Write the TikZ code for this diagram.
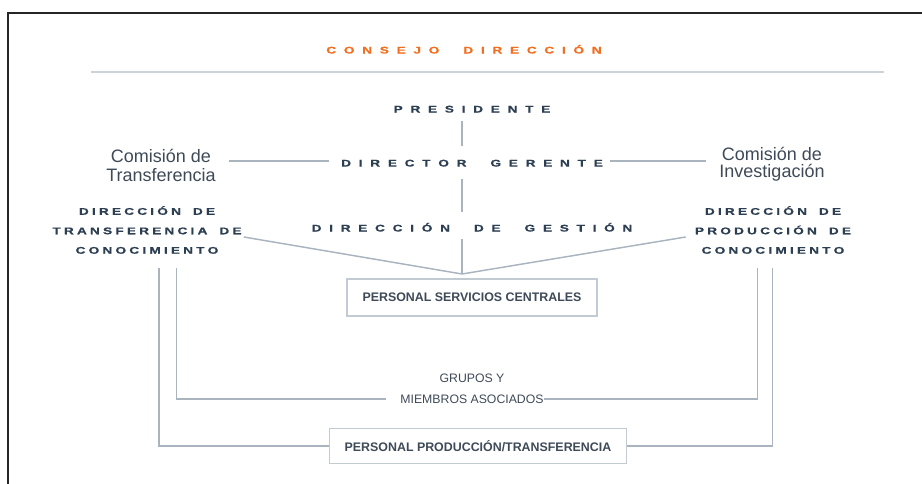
\documentclass[tikz,border=0pt]{standalone}
\usepackage{fontspec}
\setmainfont{Liberation Sans}
\newfontfamily\spfont[FakeStretch=1.4,FakeBold=0.6]{Liberation Sans}
\definecolor{navy}{HTML}{2C3E52}
\definecolor{txtgray}{HTML}{3E4A57}
\definecolor{orng}{HTML}{F26F21}
\definecolor{lncol}{HTML}{A9B4BF}
\definecolor{boxcol}{HTML}{C2CAD2}
\definecolor{rulecol}{HTML}{CDD3DA}
\ExplSyntaxOn
\dim_new:N \l_rs_kern_dim
\dim_new:N \l_rs_gap_dim
\bool_new:N \l_rs_first_bool
\bool_new:N \l_rs_fc_bool
\seq_new:N \l_rs_words_seq
\cs_new_protected:Npn \rs_word:n #1
  {
    \bool_set_true:N \l_rs_fc_bool
    \tl_map_inline:nn {#1}
      {
        \bool_if:NF \l_rs_fc_bool { \kern \l_rs_kern_dim }
        \bool_set_false:N \l_rs_fc_bool
        ##1
      }
  }
\NewDocumentCommand \spacedtext { m m m }
  {
    \dim_set:Nn \l_rs_kern_dim {#1}
    \dim_set:Nn \l_rs_gap_dim {#2}
    \seq_set_split:Nnn \l_rs_words_seq { ~ } {#3}
    \bool_set_true:N \l_rs_first_bool
    \seq_map_inline:Nn \l_rs_words_seq
      {
        \bool_if:NF \l_rs_first_bool { \kern \l_rs_gap_dim }
        \bool_set_false:N \l_rs_first_bool
        \rs_word:n {##1}
      }
  }
\ExplSyntaxOff
\newcommand\spL[1]{\spacedtext{5.8pt}{18pt}{#1}}
\newcommand\spS[1]{\spacedtext{2.4pt}{9pt}{#1}}
\tikzset{
  spbig/.style={font={\spfont\bfseries\fontsize{7.3pt}{8pt}\selectfont}, text=navy, inner sep=0pt, text height=5.3pt, text depth=0pt},
  spstack/.style={font={\spfont\bfseries\fontsize{7.3pt}{14.6pt}\selectfont}, text=navy, inner sep=0pt, align=center},
  comm/.style={font={\fontsize{13.5pt}{14.2pt}\selectfont}, text=txtgray, inner sep=0pt, align=center},
  small/.style={font={\fontsize{9.2pt}{11pt}\selectfont}, text=txtgray, inner sep=0pt, text height=6.6pt, text depth=0pt},
  boxed/.style={draw=boxcol, line width=0.9pt, font={\bfseries\fontsize{9.3pt}{11pt}\selectfont}, text=txtgray, inner sep=0pt},
  ln/.style={draw=lncol, line width=1.1pt},
}
\begin{document}
\begin{tikzpicture}[x=0.75pt,y=-0.75pt]
\useasboundingbox (0,0) rectangle (922,484);
\clip (0,0) rectangle (922,484);
% frame
\draw[black!85, line width=1.6pt] (8,500) -- (8,13) -- (940,13);
% title and rule
\node[spbig, text=orng] (title) at (464,50) {\spL{CONSEJO DIRECCIÓN}};
\draw[rulecol, line width=1.4pt] (91,72) -- (884,72);
% central stack
\node[spbig] (pres) at (472,109) {\spL{PRESIDENTE}};
\node[spbig] (dg) at (472,163) {\spL{DIRECTOR GERENTE}};
\node[spbig] (dgest) at (472,228) {\spL{DIRECCIÓN DE GESTIÓN}};
% commissions
\node[comm] (comT) at (161,165) {Comisión de\\Transferencia};
\node[comm, font={\fontsize{13.5pt}{12.5pt}\selectfont}] (comI) at (772,164) {Comisión de\\Investigación};
% side directorates
\node[spstack] (DT) at (147,230) {\spS{DIRECCIÓN DE}\\\spS{TRANSFERENCIA DE}\\\spS{CONOCIMIENTO}};
\node[spstack] (DP) at (773,230) {\spS{DIRECCIÓN DE}\\\spS{PRODUCCIÓN DE}\\\spS{CONOCIMIENTO}};
% boxes
\node[boxed, minimum width=187.5pt, minimum height=27.75pt] (PSC) at (472,297.5) {PERSONAL SERVICIOS CENTRALES};
\node[boxed, minimum width=223pt, minimum height=26pt] (PPT) at (478,446) {PERSONAL PRODUCCIÓN/TRANSFERENCIA};
% groups
\node[small] (gr) at (472,378) {GRUPOS Y};
\node[small] (gm) at (472,399) {MIEMBROS ASOCIADOS};
% coordinates
\coordinate (spine) at (462,0);
\coordinate (apex) at (462,274);
\coordinate (oL) at (159,268);
\coordinate (iL) at (176.5,268);
\coordinate (iR) at (757.5,268);
\coordinate (oR) at (772.5,268);
% connectors
\draw[ln, shorten <=6.3pt, shorten >=10.1pt] (spine |- pres.south) -- (spine |- dg.north);
\draw[ln, shorten <=9.3pt, shorten >=9.3pt] (spine |- dg.south) -- (spine |- dgest.north);
\draw[ln, shorten <=5.6pt] (spine |- dgest.south) -- (apex);
\draw[ln, shorten <=9.75pt, shorten >=9pt] ([yshift=1.5pt]comT.east |- dg.west) -- ([yshift=1.5pt]dg.west);
\draw[ln, shorten <=5.25pt, shorten >=9.75pt] ([yshift=1.5pt]dg.east) -- ([yshift=1.5pt]comI.west |- dg.east);
\draw[ln] ([xshift=1.5pt,yshift=-5.25pt]DT.east) -- (apex);
\draw[ln] ([xshift=-6.75pt,yshift=-5.25pt]DP.west) -- (apex);
\draw[ln] (oL) |- (PPT.west);
\draw[ln] (oR) |- (PPT.east);
\draw[ln] (iL) |- ([xshift=-10.5pt]gm.west);
\draw[ln] (iR) |- (gm.east);
\end{tikzpicture}
\end{document}
